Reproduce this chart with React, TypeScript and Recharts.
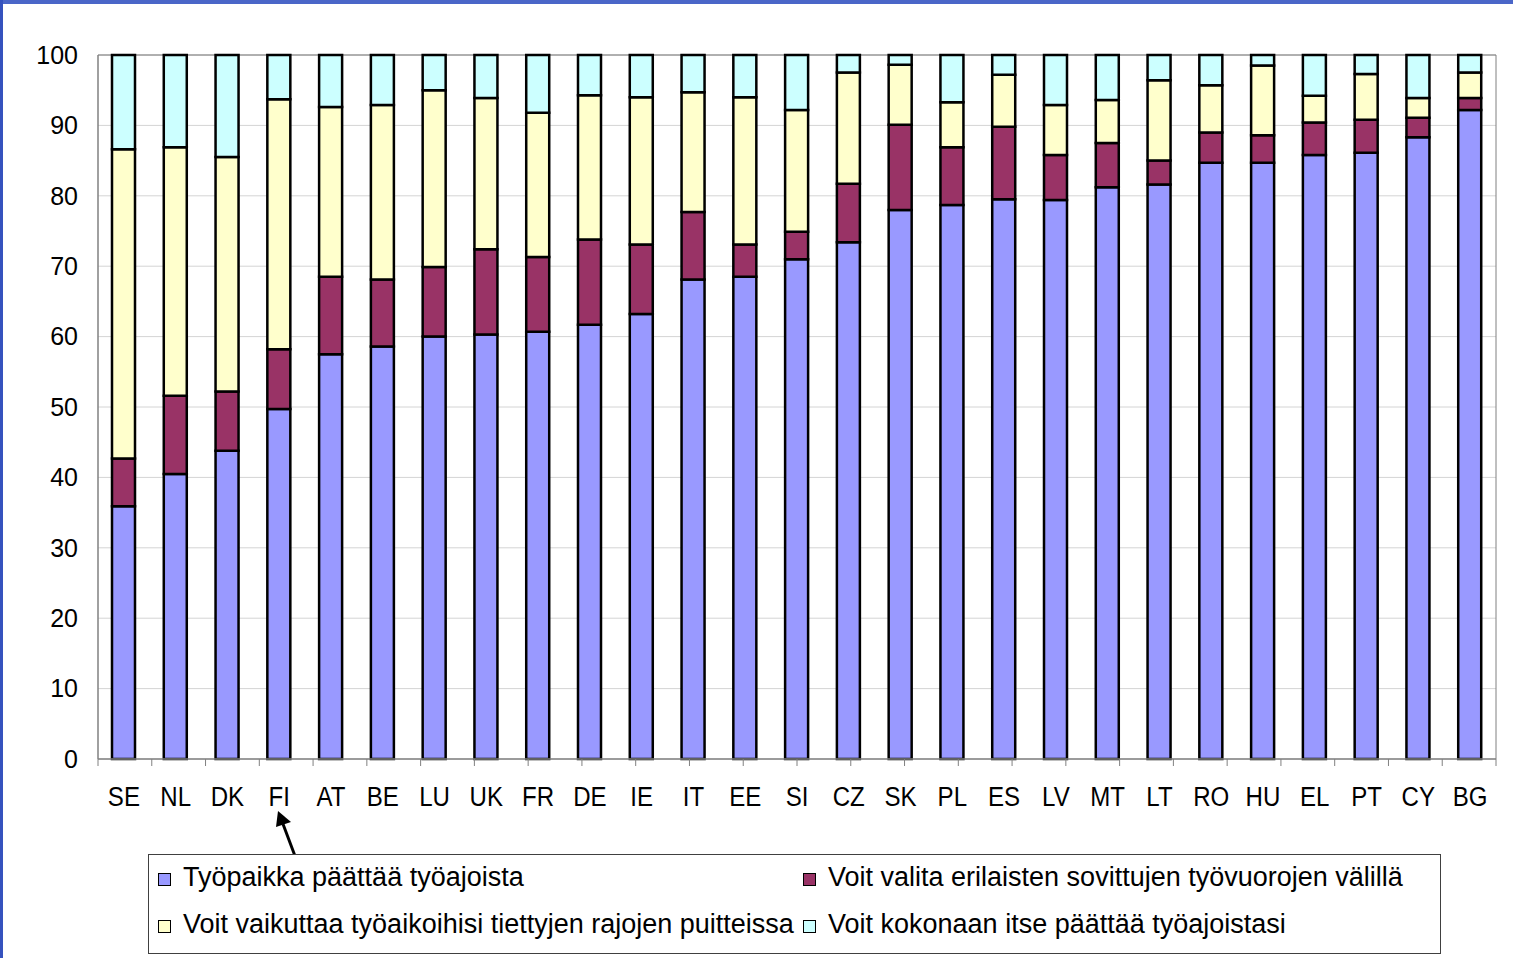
import React from "react";
import { BarChart, Bar, XAxis, YAxis, CartesianGrid } from "recharts";

const countries = ["SE","NL","DK","FI","AT","BE","LU","UK","FR","DE","IE","IT","EE","SI","CZ","SK","PL","ES","LV","MT","LT","RO","HU","EL","PT","CY","BG"];
const employerDecides = [35.9,40.5,43.8,49.7,57.5,58.6,60.0,60.3,60.7,61.7,63.2,68.1,68.5,71.0,73.4,78.0,78.7,79.5,79.4,81.2,81.6,84.7,84.7,85.8,86.1,88.3,92.2];
const chooseShifts = [6.8,11.1,8.4,8.5,11.0,9.5,9.9,12.1,10.6,12.1,9.9,9.6,4.6,3.9,8.3,12.1,8.2,10.3,6.4,6.3,3.4,4.3,3.9,4.6,4.7,2.8,1.7];
const adaptWithinLimits = [43.9,35.3,33.3,35.5,24.1,24.8,25.1,21.5,20.5,20.5,20.9,17.0,20.9,17.3,15.8,8.5,6.4,7.4,7.1,6.1,11.4,6.7,9.9,3.8,6.5,2.8,3.6];
const decideEntirely = [13.4,13.1,14.5,6.3,7.4,7.1,5.0,6.1,8.2,5.7,6.0,5.3,6.0,7.8,2.5,1.4,6.7,2.8,7.1,6.4,3.6,4.3,1.5,5.8,2.7,6.1,2.5];
const yTicks = [0,10,20,30,40,50,60,70,80,90,100];

const seriesNames = [
  "Työpaikka päättää työajoista",
  "Voit valita erilaisten sovittujen työvuorojen välillä",
  "Voit vaikuttaa työaikoihisi tiettyjen rajojen puitteissa",
  "Voit kokonaan itse päättää työajoistasi",
];
const seriesKeys = ["a", "b", "c", "d"];
const seriesColors = ["#9999FF", "#993366", "#FFFFCC", "#CCFFFF"];

const data = countries.map((c, i) => ({
  name: c,
  a: employerDecides[i],
  b: chooseShifts[i],
  c: adaptWithinLimits[i],
  d: decideEntirely[i],
}));
const boundaryTicks = countries.map((_, i) => i).concat([countries.length]);

const FONT = "'Liberation Sans', Arial, sans-serif";

const CatTick = (props: any) => {
  const { x, y, payload } = props;
  return (
    <g transform={`translate(${x},${y + 38}) scale(0.86,1)`}>
      <text x={0} y={0} textAnchor="middle" fontSize={28} fontFamily={FONT} fill="#000">
        {payload.value}
      </text>
    </g>
  );
};

const EmptyTick = () => <g />;

const legendRows = [[0, 1], [2, 3]];

export default function App() {
  return (
    <div style={{ position: "absolute", left: 0, top: 0, width: 1513, height: 958, background: "#fff", overflow: "hidden", fontFamily: FONT }}>
      <div style={{ position: "absolute", left: 0, top: 0, width: 1513, height: 4, background: "#4A66C8" }} />
      <div style={{ position: "absolute", left: 0, top: 0, width: 3, height: 958, background: "#3552BE" }} />
      <div style={{ position: "absolute", left: 0, top: 0 }}>
        <BarChart
          width={1513}
          height={958}
          data={data}
          margin={{ top: 55, right: 17, left: 38, bottom: 138 }}
          barSize={23}
        >
          <CartesianGrid stroke="#D4D4D4" vertical={false} />
          <CartesianGrid
            stroke="#808080"
            horizontalCoordinatesGenerator={({ offset }: any) => [offset.top]}
            verticalCoordinatesGenerator={({ offset }: any) => [offset.left + offset.width]}
          />
          <XAxis
            xAxisId="a_edges"
            type="number"
            domain={[0, countries.length]}
            ticks={boundaryTicks}
            interval={0}
            allowDataOverflow
            tick={<EmptyTick />}
            tickSize={7}
            tickLine={{ stroke: "#808080" }}
            axisLine={{ stroke: "#808080", strokeWidth: 1.5 }}
            height={1}
          />
          <XAxis
            xAxisId="b_cat"
            dataKey="name"
            interval={0}
            axisLine={false}
            tickLine={false}
            tick={<CatTick />}
            height={60}
          />
          <YAxis
            domain={[0, 100]}
            ticks={yTicks}
            interval={0}
            width={60}
            tickLine={false}
            tickSize={0}
            tickMargin={20}
            axisLine={{ stroke: "#808080", strokeWidth: 1.5 }}
            tick={{ fontSize: 25, fontFamily: FONT, fill: "#000" }}
          />
          {seriesKeys.map((k, i) => (
            <Bar
              key={k}
              xAxisId="b_cat"
              dataKey={k}
              name={seriesNames[i]}
              stackId="s"
              fill={seriesColors[i]}
              stroke="#000"
              strokeWidth={2.5}
              isAnimationActive={false}
            />
          ))}
        </BarChart>
      </div>
      <svg style={{ position: "absolute", left: 0, top: 0 }} width={1513} height={958}>
        <line x1={295} x2={283} y1={856} y2={824} stroke="#000" strokeWidth={3} />
        <polygon points="278,811 276,827 291,822" fill="#000" />
      </svg>
      <div
        style={{
          position: "absolute",
          left: 148,
          top: 854,
          width: 1293,
          height: 100,
          boxSizing: "border-box",
          border: "1px solid #404040",
          background: "#fff",
        }}
      >
        {legendRows.map((row, r) => (
          <div key={r} style={{ position: "absolute", top: 9 + r * 47, left: 0, width: "100%", height: 27 }}>
            {row.map((si, c) => (
              <div key={si} style={{ position: "absolute", left: c === 0 ? 9 : 654, top: 0, height: 27, whiteSpace: "nowrap" }}>
                <span
                  style={{
                    position: "absolute",
                    left: 0,
                    top: 9,
                    width: 13,
                    height: 13,
                    boxSizing: "border-box",
                    border: "1.5px solid #000",
                    background: seriesColors[si],
                  }}
                />
                <span style={{ position: "absolute", left: 25, top: 0, fontSize: 27, lineHeight: "27px", color: "#000" }}>
                  {seriesNames[si]}
                </span>
              </div>
            ))}
          </div>
        ))}
      </div>
    </div>
  );
}
